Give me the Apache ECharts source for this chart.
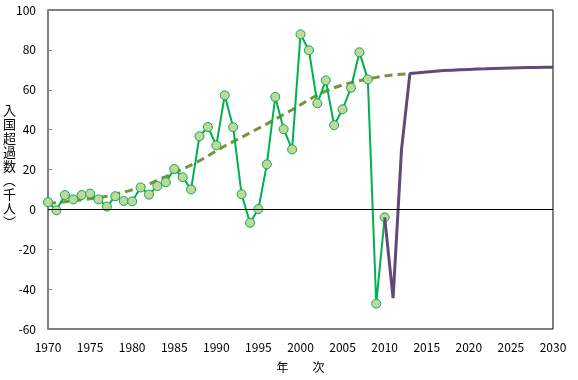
<!DOCTYPE html>
<html>
<head>
<meta charset="utf-8">
<script src="https://cdn.jsdelivr.net/npm/echarts@6/dist/echarts.min.js"></script>
<style>html,body{margin:0;padding:0;background:#fff;}#c{width:578px;height:380px;}</style>
</head>
<body>
<div id="c"></div>
<script>
const xTicks = [1970, 1975, 1980, 1985, 1990, 1995, 2000, 2005, 2010, 2015, 2020, 2025, 2030];
const yTicks = [-60, -40, -20, 0, 20, 40, 60, 80, 100];

const actualYears = [1970,1971,1972,1973,1974,1975,1976,1977,1978,1979,1980,1981,1982,1983,1984,1985,1986,1987,1988,1989,1990,1991,1992,1993,1994,1995,1996,1997,1998,1999,2000,2001,2002,2003,2004,2005,2006,2007,2008,2009,2010];
const actualValues = [3.6,-0.5,7.2,5.0,7.2,7.9,5.0,1.4,6.6,4.2,4.0,11.0,7.4,11.7,13.6,20.3,16.1,10.0,36.7,41.3,32.1,57.2,41.2,7.6,-6.7,0.2,22.6,56.4,40.2,30.1,87.8,79.8,53.2,64.7,42.2,50.2,61.0,78.8,65.2,-47.3,-4.0];

const trendYears = [1970,1971,1972,1973,1974,1975,1976,1977,1978,1979,1980,1981,1982,1983,1984,1985,1986,1987,1988,1989,1990,1991,1992,1993,1994,1995,1996,1997,1998,1999,2000,2001,2002,2003,2004,2005,2006,2007,2008,2009,2010,2011,2012,2013];
const trendValues = [3.0,3.3,3.8,4.3,4.8,5.3,5.9,6.6,7.6,8.6,9.8,11.0,12.6,14.6,16.4,18.4,20.2,22.2,24.4,26.8,29.4,31.8,34.0,36.2,38.4,40.6,42.9,45.2,47.6,50.0,52.5,55.0,57.3,59.3,61.0,62.4,63.5,64.5,65.4,66.2,66.9,67.4,67.8,68.0];

const projYears = [2010,2011,2012,2013,2014,2015,2016,2017,2018,2019,2020,2021,2022,2023,2024,2025,2026,2027,2028,2029,2030];
const projValues = [-4.0,-44.5,30.0,68.2,68.5,68.9,69.3,69.6,69.8,70.0,70.2,70.4,70.5,70.7,70.8,70.9,71.0,71.1,71.2,71.3,71.3];

const yName = ['入','国','超','過','数','︵','千','人','︶'];
const xName = '年　　次';

const pair = (xs, ys) => xs.map((x, i) => [x, ys[i]]);
const FONT = '"Noto Sans CJK JP", sans-serif';

const chart = echarts.init(document.getElementById('c'), null, {renderer: 'canvas'});
chart.setOption({
  animation: false,
  backgroundColor: '#fff',
  grid: {left: 48, right: 25, top: 10, bottom: 51, show: true, borderColor: '#000', borderWidth: 1, backgroundColor: 'transparent'},
  xAxis: {
    type: 'value', min: xTicks[0], max: xTicks[xTicks.length - 1], interval: 5,
    axisLine: {show: false, onZero: false},
    axisTick: {show: false},
    splitLine: {show: false},
    axisLabel: {color: '#000', fontFamily: FONT, fontSize: 12, margin: 12, formatter: v => String(v)},
    name: xName, nameLocation: 'middle', nameGap: 32,
    nameTextStyle: {color: '#000', fontFamily: FONT, fontSize: 12}
  },
  yAxis: {
    type: 'value', min: yTicks[0], max: yTicks[yTicks.length - 1], interval: 20,
    axisLine: {show: true, onZero: false, lineStyle: {color: '#808080', width: 2}},
    axisTick: {show: true, inside: true, length: 4, lineStyle: {color: '#808080'}},
    splitLine: {show: false},
    axisLabel: {color: '#000', fontFamily: FONT, fontSize: 12, margin: 12}
  },
  graphic: [{
    type: 'text', left: 3, top: 103,
    style: {text: yName.join('\n'), fontFamily: FONT, fontSize: 13, lineHeight: 14, fill: '#000', align: 'center'}
  }],
  series: [
    {
      type: 'line', data: pair(trendYears, trendValues), showSymbol: false, symbol: 'none',
      lineStyle: {color: '#77933C', width: 3, type: [8, 5]}, z: 2,
      markLine: {silent: true, symbol: 'none', label: {show: false},
        lineStyle: {color: '#000', width: 1.2, type: 'solid'}, data: [{yAxis: 0}]}
    },
    {
      type: 'line', data: pair(actualYears, actualValues), symbol: 'circle', symbolSize: 9,
      lineStyle: {color: '#00B050', width: 2}, itemStyle: {color: '#C3D69B', borderColor: '#00B050', borderWidth: 1}, z: 3
    },
    {
      type: 'line', data: pair(projYears, projValues), symbol: 'none',
      lineStyle: {color: '#604A7B', width: 3}, z: 4
    }
  ]
});
</script>
</body>
</html>
